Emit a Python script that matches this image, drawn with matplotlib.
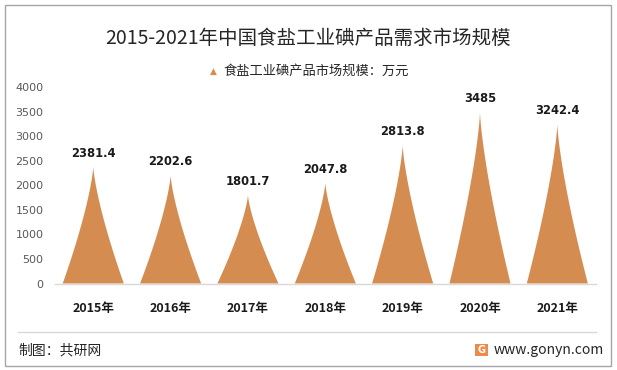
import numpy as np
import matplotlib
matplotlib.use("Agg")
import matplotlib.pyplot as plt
from matplotlib.patches import Rectangle

plt.rcParams['font.family'] = ['Noto Sans CJK SC', 'DejaVu Sans']

years = ["2015年", "2016年", "2017年", "2018年", "2019年", "2020年", "2021年"]
values = [2381.4, 2202.6, 1801.7, 2047.8, 2813.8, 3485, 3242.4]
value_labels = ["2381.4", "2202.6", "1801.7", "2047.8", "2813.8", "3485", "3242.4"]
yticks = [0, 500, 1000, 1500, 2000, 2500, 3000, 3500, 4000]

title = "2015-2021年中国食盐工业碘产品需求市场规模"
legend_label = "食盐工业碘产品市场规模：万元"
source = "制图：共研网"
site = "www.gonyn.com"

color = "#D58C51"

W, H = 617, 370
fig = plt.figure(figsize=(W / 100, H / 100), dpi=100)
fig.patch.set_facecolor("white")

ax = fig.add_axes([54.6 / W, 1 - 283.5 / H, (596 - 54.6) / W, (283.5 - 87) / H])
ax.set_xlim(-0.5, len(years) - 0.5)
ax.set_ylim(0, 4000)

half = 0.395
k = 1.35
u = np.linspace(0, 1, 200)
for i, v in enumerate(values):
    y = v * u
    hw = half * (1 - u) ** k
    xs = np.concatenate([i - hw, (i + hw)[::-1]])
    ys = np.concatenate([y, y[::-1]])
    ax.fill(xs, ys, color=color, lw=0, zorder=2)
    ax.annotate(value_labels[i], (i, v), xytext=(0, 5), textcoords="offset points",
                ha="center", va="bottom", fontsize=8.3, fontweight="bold",
                color="#1a1a1a", family=["DejaVu Sans"], zorder=3)

for s in ["top", "right", "left"]:
    ax.spines[s].set_visible(False)
ax.spines["bottom"].set_color("#D9D9D9")
ax.spines["bottom"].set_linewidth(1)
ax.set_yticks(yticks)
ax.set_yticklabels([str(t) for t in yticks], fontsize=8, color="#595959",
                   family=["DejaVu Sans"])
ax.tick_params(axis="y", length=0, pad=8)
ax.set_xticks(range(len(years)))
ax.set_xticklabels(years, fontsize=9, fontweight="bold", color="#1a1a1a")
ax.tick_params(axis="x", length=0, pad=13)

fig.text(0.5, 1 - 38 / H, title, ha="center", va="center", fontsize=14, color="#262626")

# legend
fig.text(213 / W, 1 - 71 / H, "▲", ha="center", va="center", fontsize=6.5, color=color,
         family=["DejaVu Sans"])
fig.text(223 / W, 1 - 71 / H, legend_label, ha="left", va="center", fontsize=9.5, color="#262626")

# footer
fig.add_artist(plt.Line2D([18 / W, 596 / W], [1 - 332 / H, 1 - 332 / H],
                          color="#D9D9D9", lw=1, transform=fig.transFigure))
fig.text(18 / W, 1 - 350 / H, source, ha="left", va="center", fontsize=10, color="#262626")
fig.add_artist(Rectangle((475 / W, 1 - 356 / H), 13 / W, 12 / H, facecolor="#F08A4B",
                         edgecolor="none", transform=fig.transFigure))
fig.text(481.5 / W, 1 - 350 / H, "G", ha="center", va="center", fontsize=7,
         fontweight="bold", color="white", family=["DejaVu Sans"])
fig.text(494 / W, 1 - 350 / H, site, ha="left", va="center", fontsize=10, color="#262626")

# outer border
fig.add_artist(Rectangle((4.5 / W, 1 - 366 / H), 606 / W, 361.5 / H, fill=False,
                         edgecolor="#A6A6A6", lw=1, transform=fig.transFigure))

fig.savefig("out.png", dpi=100, facecolor="white")
